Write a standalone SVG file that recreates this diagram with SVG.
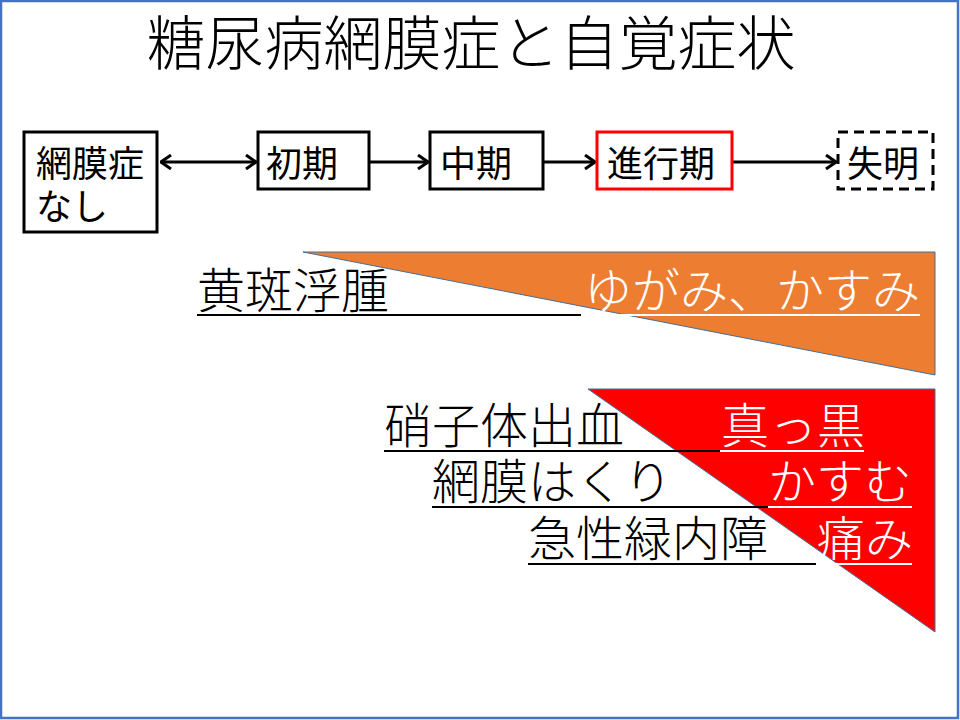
<svg xmlns="http://www.w3.org/2000/svg" width="960" height="720" viewBox="0 0 960 720">
<defs>
<style>
.jp{font-family:"Noto Sans CJK JP","Noto Sans CJK SC",sans-serif;font-weight:300}
.box{fill:#fff;stroke:#000;stroke-width:3}
.lbl{font-size:36px;fill:#000;font-weight:400}
.big{font-size:48px}
.blk{fill:#000}
.wht{fill:#fff}
.ulb{stroke:#000;stroke-width:2}
.ulw{stroke:#fff;stroke-width:2}
.con{stroke:#000;stroke-width:3;fill:none}
.tri{stroke:#41719C;stroke-width:1}
</style>
<marker id="ah" viewBox="0 0 12 16" refX="11" refY="8" markerWidth="12" markerHeight="16" markerUnits="userSpaceOnUse" orient="auto-start-reverse">
<path d="M1,1 L11,8 L1,15" fill="none" stroke="#000" stroke-width="3"/>
</marker>
</defs>
<rect x="0" y="0" width="960" height="720" fill="#fff"/>
<rect x="1" y="1" width="957" height="717" fill="none" stroke="#4472C4" stroke-width="2.5"/>
<text id="title" class="jp" x="471" y="65" font-size="59" text-anchor="middle" fill="#000">糖尿病網膜症と自覚症状</text>

<g id="connectors">
<line class="con" x1="161" y1="162" x2="256" y2="162" marker-start="url(#ah)" marker-end="url(#ah)"/>
<line class="con" x1="370" y1="162" x2="428" y2="162" marker-end="url(#ah)"/>
<line class="con" x1="543" y1="162" x2="595" y2="162" marker-end="url(#ah)"/>
<line class="con" x1="733" y1="162" x2="836" y2="162" marker-end="url(#ah)"/>
</g>

<g id="n-none">
<rect class="box" x="24" y="132" width="133" height="100"/>
<text class="jp lbl" x="36" y="177">網膜症</text>
<text class="jp lbl" x="36" y="220">なし</text>
</g>
<g id="n-early">
<rect class="box" x="258" y="132" width="111" height="57"/>
<text class="jp lbl" x="266" y="177">初期</text>
</g>
<g id="n-mid">
<rect class="box" x="430" y="132" width="113" height="57"/>
<text class="jp lbl" x="440" y="177">中期</text>
</g>
<g id="n-adv">
<rect class="box" x="597" y="132" width="135" height="57" style="stroke:#FF0000"/>
<text class="jp lbl" x="607" y="177">進行期</text>
</g>
<g id="n-blind">
<rect class="box" x="838" y="132" width="95" height="57" stroke-dasharray="10,6"/>
<text class="jp lbl" x="847" y="177">失明</text>
</g>

<g id="orange">
<polygon class="tri" points="303,252 935,252 935,375" fill="#ED7D31"/>
<text class="jp big blk" x="197" y="308">黄斑浮腫</text>
<line class="ulb" x1="197" y1="315" x2="581" y2="315"/>
<text class="jp big wht" x="584" y="308">ゆがみ、かすみ</text>
<line class="ulw" x1="584" y1="315" x2="920" y2="315"/>
</g>

<g id="red">
<polygon class="tri" points="588,389 935,389 935,632" fill="#FF0000"/>
<text class="jp big blk" x="384" y="443">硝子体出血</text>
<line class="ulb" x1="384" y1="451" x2="720" y2="451"/>
<text class="jp big wht" x="721" y="443">真っ黒</text>
<line class="ulw" x1="720" y1="451" x2="864" y2="451"/>
<text class="jp big blk" x="432" y="499">網膜はくり</text>
<line class="ulb" x1="432" y1="507" x2="768" y2="507"/>
<text class="jp big wht" x="768" y="499">かすむ</text>
<line class="ulw" x1="768" y1="507" x2="912" y2="507"/>
<text class="jp big blk" x="528" y="556">急性緑内障</text>
<line class="ulb" x1="528" y1="564" x2="816" y2="564"/>
<text class="jp big wht" x="817" y="556">痛み</text>
<line class="ulw" x1="816" y1="564" x2="912" y2="564"/>
</g>
</svg>
